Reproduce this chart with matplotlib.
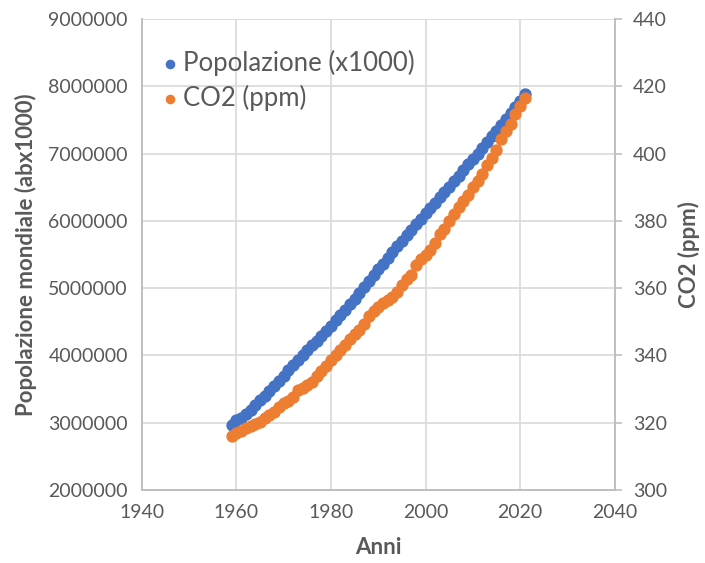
import matplotlib
matplotlib.use("Agg")
import matplotlib.pyplot as plt

plt.rcParams['font.family'] = ['Lato', 'DejaVu Sans']

years = list(range(1959, 2022))

# popolazione mondiale (x1000)
popolazione = [
    2960000, 3032000, 3073000, 3127000, 3193000, 3260000, 3330000, 3400000, 3470000, 3545000,
    3620000, 3700000, 3775000, 3850000, 3925000, 4000000, 4075000, 4150000, 4220000, 4290000,
    4365000, 4440000, 4520000, 4600000, 4680000, 4760000, 4840000, 4930000, 5010000, 5100000,
    5190000, 5280000, 5360000, 5450000, 5530000, 5620000, 5700000, 5790000, 5870000, 5950000,
    6030000, 6110000, 6190000, 6270000, 6350000, 6430000, 6510000, 6590000, 6670000, 6750000,
    6840000, 6920000, 7000000, 7090000, 7170000, 7260000, 7340000, 7420000, 7510000, 7600000,
    7690000, 7790000, 7880000,
]

# CO2 Mauna Loa (ppm)
co2 = [
    315.98, 316.91, 317.64, 318.45, 318.99, 319.62, 320.04, 321.37, 322.18, 323.05,
    324.62, 325.68, 326.32, 327.46, 329.68, 330.19, 331.12, 332.03, 333.84, 335.41,
    336.84, 338.76, 340.12, 341.48, 343.15, 344.87, 346.35, 347.61, 349.31, 351.69,
    353.20, 354.45, 355.70, 356.54, 357.21, 358.96, 360.97, 362.74, 363.88, 366.84,
    368.54, 369.71, 371.32, 373.45, 375.98, 377.70, 379.98, 382.09, 384.02, 385.83,
    387.64, 390.10, 391.85, 394.06, 396.74, 398.81, 401.01, 404.41, 406.76, 408.72,
    411.66, 414.24, 416.45,
]

blue = '#4472C4'
orange = '#ED7D31'
grey_txt = '#595959'
grid_c = '#D9D9D9'

fig = plt.figure(figsize=(7.05, 5.63), dpi=100)
ax = fig.add_axes([0.201, 0.130, 0.671, 0.836])
ax2 = ax.twinx()

p1 = ax.scatter(years, popolazione, s=62, color=blue, zorder=3, label='Popolazione (x1000)')
p2 = ax2.scatter(years, co2, s=62, color=orange, zorder=3, label='CO2 (ppm)')

ax.set_xlim(1940, 2040)
ax.set_xticks(range(1940, 2041, 20))
ax.set_ylim(2000000, 9000000)
ax.set_yticks(range(2000000, 9000001, 1000000))
ax.set_yticklabels([str(v) for v in range(2000000, 9000001, 1000000)])
ax2.set_ylim(300, 440)
ax2.set_yticks(range(300, 441, 20))

ax.grid(True, color=grid_c, linewidth=1.2, zorder=0)
ax.set_axisbelow(True)

for a in (ax, ax2):
    for s in a.spines.values():
        s.set_color('#BFBFBF')
        s.set_linewidth(1.2)
    a.spines['top'].set_visible(False)

ax.tick_params(axis='both', colors='#BFBFBF', labelcolor=grey_txt, labelsize=14)
ax.tick_params(axis='y', length=0, pad=10)
ax.tick_params(axis='x', length=0, pad=10)
ax2.tick_params(axis='y', colors='#BFBFBF', labelcolor=grey_txt, labelsize=14, length=5, width=1.2, pad=8)

ax.set_xlabel('Anni', fontsize=16, fontweight='bold', color=grey_txt, labelpad=12)
ax.set_ylabel('Popolazione mondiale (abx1000)', fontsize=16, fontweight='bold', color=grey_txt, labelpad=8)
ax2.set_ylabel('CO2 (ppm)', fontsize=16, fontweight='bold', color=grey_txt, labelpad=8)

leg = ax2.legend(handles=[p1, p2], loc='upper left', bbox_to_anchor=(0.207, 0.935),
                 bbox_transform=fig.transFigure, frameon=False, fontsize=18.5,
                 handletextpad=0.05, labelspacing=0.35, markerscale=0.75, borderpad=0,
                 handlelength=0.9)
for t in leg.get_texts():
    t.set_color(grey_txt)

fig.savefig('out.png', dpi=100)
